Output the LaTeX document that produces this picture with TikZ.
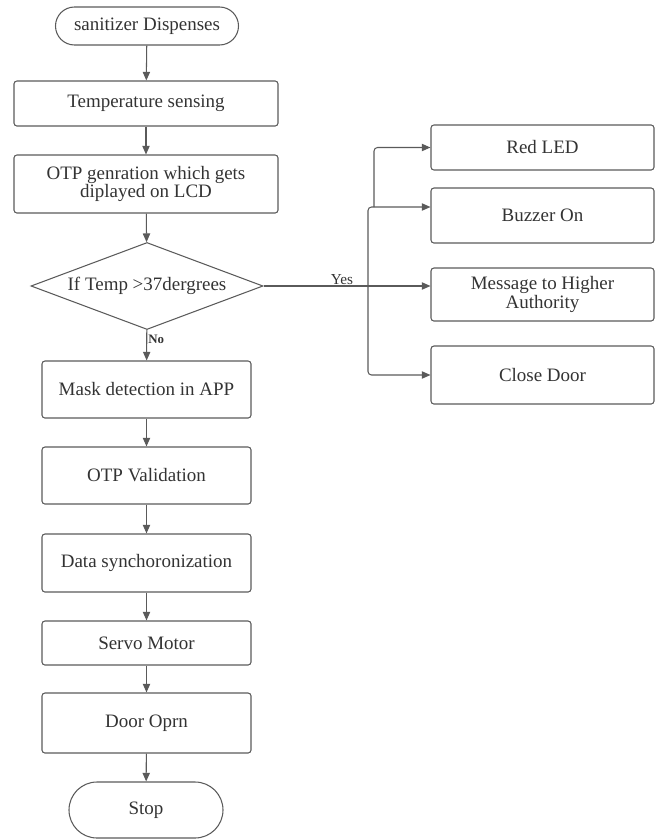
\documentclass[tikz,border=0pt]{standalone}
\usepackage{fontspec}
\setmainfont{Liberation Serif}
\usepackage{xcolor}
\usetikzlibrary{shapes.geometric, shapes.misc, arrows.meta, positioning, calc}

\definecolor{linegray}{HTML}{5A5A5A}
\definecolor{textgray}{HTML}{333333}

\begin{document}
\begin{tikzpicture}[
    x=0.03cm, y=-0.03cm,
    box/.style={
        rectangle, rounded corners=2.5pt, inner sep=0pt,
        draw=linegray, line width=0.9pt, text=textgray,
        font=\fontsize{16.2}{14.5}\selectfont, align=center
    },
    term/.style={
        rounded rectangle, inner sep=0pt,
        draw=linegray, line width=0.9pt, text=textgray,
        font=\fontsize{16.2}{14.5}\selectfont
    },
    decision/.style={
        diamond, aspect=2.67, inner sep=0pt,
        draw=linegray, line width=0.9pt, text=textgray,
        font=\fontsize{16.2}{14.5}\selectfont
    },
    arrow/.style={-{Triangle[length=2.6mm, width=2.2mm]}, line width=0.9pt, linegray},
    lbl/.style={text=textgray, inner sep=1pt}
]
    \useasboundingbox (0,0) rectangle (660,840);

    % main column
    \node[term, minimum width=5.49cm, minimum height=1.14cm] (start) at (147, 26) {sanitizer Dispenses};
    \node[box, minimum width=7.92cm, minimum height=1.35cm] (temp) at (146, 103.5) {Temperature sensing};
    \node[box, minimum width=7.92cm, minimum height=1.74cm] (otp) at (146, 184) {OTP genration which gets\\diplayed on LCD};
    \node[decision, minimum width=6.96cm, minimum height=2.61cm] (dec) at (147, 286) {If Temp >37dergrees};
    \node[box, minimum width=6.27cm, minimum height=1.71cm] (mask) at (146.5, 389.5) {Mask detection in APP};
    \node[box, minimum width=6.27cm, minimum height=1.71cm] (valid) at (146.5, 475.5) {OTP Validation};
    \node[box, minimum width=6.27cm, minimum height=1.74cm] (sync) at (146.5, 563) {Data synchoronization};
    \node[box, minimum width=6.27cm, minimum height=1.32cm] (servo) at (146.5, 643) {Servo Motor};
    \node[box, minimum width=6.27cm, minimum height=1.80cm] (door) at (146.5, 723) {Door Oprn};
    \node[term, minimum width=4.62cm, minimum height=1.68cm] (stop) at (146, 810) {Stop};

    % alarm column
    \node[box, minimum width=6.69cm, minimum height=1.35cm] (red) at (542.5, 147.5) {Red LED};
    \node[box, minimum width=6.69cm, minimum height=1.65cm] (buzz) at (542.5, 215.5) {Buzzer On};
    \node[box, minimum width=6.69cm, minimum height=1.59cm] (msg) at (542.5, 294.5) {Message to Higher\\Authority};
    \node[box, minimum width=6.69cm, minimum height=1.74cm] (close) at (542.5, 375) {Close Door};

    \draw[arrow] (start) -- (temp);
    \draw[arrow] (temp) -- (otp);
    \draw[arrow] (otp) -- (dec);
    \draw[arrow] (dec) -- node[lbl, right, pos=0.3, font=\fontsize{11}{11}\selectfont\bfseries] {No} (mask);
    \draw[arrow] (mask) -- (valid);
    \draw[arrow] (valid) -- (sync);
    \draw[arrow] (sync) -- (servo);
    \draw[arrow] (servo) -- (door);
    \draw[arrow] (door) -- (stop);

    % yes branch
    \coordinate (j1) at (368, 287);
    \coordinate (j2) at (374, 207);
    \draw[arrow] (dec.east) -- node[lbl, above, pos=0.47, font=\fontsize{13}{13}\selectfont] {Yes} (dec.east -| msg.west);
    \draw[arrow, rounded corners=3pt] (j1) |- (j2 -| buzz.west);
    \draw[arrow, rounded corners=3pt] (j1) |- (close.west);
    \draw[arrow, rounded corners=3pt] (j2) |- (red.west);
\end{tikzpicture}
\end{document}
